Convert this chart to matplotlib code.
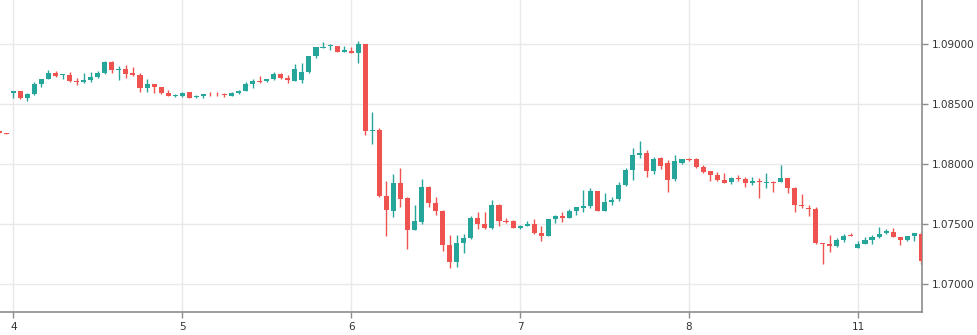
import numpy as np
import matplotlib.pyplot as plt

# hourly candles, index 0 = day 4 00:00
opens = [1.08275, 1.08258,
    1.08594, 1.08608, 1.08552, 1.08583, 1.08667, 1.08708, 1.08758, 1.08739, 1.08742, 1.08692,
    1.08683, 1.08700, 1.08725, 1.08758, 1.08850, 1.08783, 1.08792, 1.08756, 1.08742, 1.08633,
    1.08667, 1.08642, 1.08592, 1.08567,
    1.08569, 1.08600, 1.08561, 1.08569, 1.08586, 1.08586, 1.08581, 1.08569, 1.08592, 1.08611,
    1.08667, 1.08692, 1.08692, 1.08708, 1.08750, 1.08717, 1.08692, 1.08700, 1.08767, 1.08900,
    1.08969, 1.08983, 1.08983, 1.08936,
    1.08942, 1.08927, 1.09000, 1.08278, 1.08283, 1.07733, 1.07608, 1.07842, 1.07717, 1.07450,
    1.07517, 1.07808, 1.07675, 1.07608, 1.07325, 1.07183, 1.07342, 1.07383, 1.07550, 1.07500,
    1.07467, 1.07658, 1.07525, 1.07525,
    1.07467, 1.07483, 1.07500, 1.07425, 1.07400, 1.07542, 1.07567, 1.07550, 1.07608, 1.07633,
    1.07650, 1.07775, 1.07608, 1.07683, 1.07708, 1.07825, 1.07950, 1.08075, 1.08092, 1.07942,
    1.08050, 1.08008, 1.07875, 1.08008,
    1.08042, 1.08042, 1.07975, 1.07942, 1.07908, 1.07867, 1.07850, 1.07883, 1.07875, 1.07842,
    1.07858, 1.07842, 1.07853, 1.07850, 1.07883, 1.07800, 1.07661, 1.07633, 1.07625, 1.07342,
    1.07333, 1.07317, 1.07367, 1.07408,
    1.07300, 1.07333, 1.07367, 1.07392, 1.07425, 1.07433, 1.07392, 1.07367, 1.07400, 1.07417]

highs = [1.08283, 1.08262,
    1.08608, 1.08608, 1.08594, 1.08683, 1.08708, 1.08783, 1.08775, 1.08753, 1.08767, 1.08717,
    1.08758, 1.08767, 1.08775, 1.08858, 1.08858, 1.08817, 1.08825, 1.08808, 1.08758, 1.08708,
    1.08667, 1.08642, 1.08617, 1.08583,
    1.08600, 1.08600, 1.08575, 1.08583, 1.08603, 1.08600, 1.08594, 1.08600, 1.08617, 1.08683,
    1.08708, 1.08733, 1.08708, 1.08767, 1.08758, 1.08742, 1.08833, 1.08842, 1.08900, 1.08975,
    1.09017, 1.09000, 1.08983, 1.08983,
    1.08978, 1.09025, 1.09000, 1.08433, 1.08300, 1.07858, 1.07917, 1.07967, 1.07725, 1.07658,
    1.07875, 1.07817, 1.07725, 1.07617, 1.07408, 1.07408, 1.07417, 1.07567, 1.07600, 1.07600,
    1.07700, 1.07667, 1.07550, 1.07533,
    1.07492, 1.07525, 1.07542, 1.07483, 1.07542, 1.07575, 1.07600, 1.07625, 1.07642, 1.07783,
    1.07800, 1.07775, 1.07758, 1.07725, 1.07850, 1.07967, 1.08133, 1.08192, 1.08117, 1.08058,
    1.08058, 1.08033, 1.08075, 1.08042,
    1.08050, 1.08050, 1.07992, 1.07942, 1.07933, 1.07925, 1.07892, 1.07908, 1.07892, 1.07892,
    1.07883, 1.07925, 1.07858, 1.07992, 1.07883, 1.07808, 1.07750, 1.07658, 1.07642, 1.07342,
    1.07408, 1.07383, 1.07417, 1.07425,
    1.07358, 1.07392, 1.07408, 1.07475, 1.07458, 1.07467, 1.07392, 1.07400, 1.07425, 1.07433]

lows = [1.08250, 1.08250,
    1.08552, 1.08544, 1.08527, 1.08575, 1.08642, 1.08708, 1.08725, 1.08708, 1.08683, 1.08661,
    1.08675, 1.08683, 1.08717, 1.08750, 1.08758, 1.08700, 1.08717, 1.08733, 1.08600, 1.08600,
    1.08592, 1.08583, 1.08569, 1.08558,
    1.08561, 1.08550, 1.08547, 1.08552, 1.08569, 1.08569, 1.08561, 1.08569, 1.08586, 1.08608,
    1.08633, 1.08675, 1.08683, 1.08700, 1.08708, 1.08675, 1.08692, 1.08675, 1.08758, 1.08883,
    1.08969, 1.08950, 1.08933, 1.08936,
    1.08927, 1.08844, 1.08242, 1.08169, 1.07725, 1.07400, 1.07558, 1.07642, 1.07292, 1.07450,
    1.07500, 1.07642, 1.07575, 1.07275, 1.07133, 1.07142, 1.07258, 1.07375, 1.07458, 1.07458,
    1.07458, 1.07483, 1.07508, 1.07467,
    1.07458, 1.07483, 1.07417, 1.07358, 1.07400, 1.07508, 1.07517, 1.07550, 1.07575, 1.07600,
    1.07633, 1.07608, 1.07608, 1.07658, 1.07692, 1.07817, 1.07867, 1.08050, 1.07892, 1.07917,
    1.07958, 1.07767, 1.07858, 1.08000,
    1.08025, 1.07967, 1.07925, 1.07858, 1.07858, 1.07842, 1.07833, 1.07858, 1.07808, 1.07825,
    1.07717, 1.07800, 1.07767, 1.07850, 1.07758, 1.07600, 1.07633, 1.07567, 1.07333, 1.07167,
    1.07267, 1.07308, 1.07350, 1.07400,
    1.07300, 1.07333, 1.07333, 1.07383, 1.07417, 1.07392, 1.07325, 1.07358, 1.07358, 1.07167]

closes = [1.08258, 1.08253,
    1.08608, 1.08552, 1.08583, 1.08667, 1.08708, 1.08758, 1.08733, 1.08748, 1.08692, 1.08686,
    1.08700, 1.08725, 1.08758, 1.08850, 1.08783, 1.08792, 1.08750, 1.08744, 1.08633, 1.08667,
    1.08642, 1.08592, 1.08569, 1.08575,
    1.08592, 1.08550, 1.08567, 1.08583, 1.08581, 1.08581, 1.08575, 1.08592, 1.08611, 1.08667,
    1.08692, 1.08683, 1.08708, 1.08750, 1.08717, 1.08700, 1.08792, 1.08767, 1.08900, 1.08975,
    1.08978, 1.08992, 1.08933, 1.08950,
    1.08927, 1.09000, 1.08278, 1.08286, 1.07733, 1.07617, 1.07842, 1.07708, 1.07450, 1.07525,
    1.07808, 1.07675, 1.07608, 1.07325, 1.07183, 1.07342, 1.07383, 1.07550, 1.07500, 1.07467,
    1.07658, 1.07525, 1.07517, 1.07467,
    1.07483, 1.07500, 1.07425, 1.07400, 1.07542, 1.07567, 1.07550, 1.07608, 1.07642, 1.07650,
    1.07775, 1.07608, 1.07683, 1.07700, 1.07825, 1.07950, 1.08075, 1.08092, 1.07942, 1.08042,
    1.07983, 1.07867, 1.08025, 1.08042,
    1.08033, 1.07975, 1.07933, 1.07908, 1.07867, 1.07842, 1.07883, 1.07875, 1.07842, 1.07858,
    1.07850, 1.07850, 1.07844, 1.07883, 1.07800, 1.07658, 1.07653, 1.07625, 1.07342, 1.07333,
    1.07317, 1.07367, 1.07400, 1.07400,
    1.07333, 1.07367, 1.07392, 1.07417, 1.07442, 1.07392, 1.07367, 1.07400, 1.07425, 1.07192]

day_labels = ['4', '5', '6', '7', '8', '11']
day_starts = [0, 24, 48, 72, 96, 120]
price_ticks = [1.07, 1.075, 1.08, 1.085, 1.09]

up_col = '#26a69a'
down_col = '#ef5350'

o = np.array(opens)
h = np.array(highs)
l = np.array(lows)
c = np.array(closes)
x = np.arange(len(o)) - 2

cols = [up_col if cc >= oo else down_col for oo, cc in zip(o, c)]
body_lo = np.minimum(o, c)
body_h = np.maximum(np.abs(c - o), 0.000012)

fig = plt.figure(figsize=(9.78, 3.35), dpi=100)
ax = fig.add_axes([0, 0.0687, 922 / 978, 0.9313])

for xv in day_starts:
    ax.axvline(xv, color='#e9e9e9', lw=1, zorder=0)
for yv in price_ticks:
    ax.axhline(yv, color='#e9e9e9', lw=1, zorder=0)

ax.vlines(x, l, h, colors=cols, lw=1, zorder=2)
ax.bar(x, body_h, bottom=body_lo, width=0.72, color=cols, lw=0, zorder=3)

ax.set_xlim(-1.89, 129.1)
ax.set_ylim(1.06767, 1.09367)

ax.yaxis.tick_right()
ax.set_yticks(price_ticks)
ax.set_yticklabels(['%.5f' % p for p in price_ticks])
ax.set_xticks(day_starts)
ax.set_xticklabels(day_labels)
ax.tick_params(axis='both', colors='#8c8c8c', labelcolor='#333333', labelsize=7.5,
               length=4, width=1)
ax.tick_params(axis='y', pad=3)

for side in ['top', 'left']:
    ax.spines[side].set_visible(False)
for side in ['right', 'bottom']:
    ax.spines[side].set_color('#8c8c8c')
    ax.spines[side].set_linewidth(1.2)

fig.savefig('out.png', dpi=100)
